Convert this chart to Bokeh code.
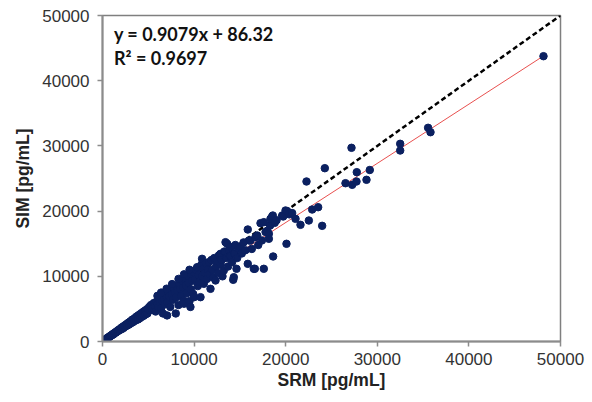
from bokeh.plotting import figure
from bokeh.models import Range1d, FixedTicker, Label, ColumnDataSource
from bokeh.embed import file_html
from bokeh.resources import INLINE

# ---- data ----
srm = [150,250,300,400,450,500,600,650,700,800,850,900,1000,1050,1100,1200,1250,1300,1400,1450,
       1500,1600,1650,1700,1800,1850,1900,2000,2050,2100,2200,2250,2300,2400,2450,2500,2600,2650,
       2700,2800,2850,2900,3000,3050,3100,3200,3250,3300,3400,3450,3500,3600,3650,3700,3800,3850,
       3900,4000,4050,4100,4200,4250,4300,4400,4450,4500,4600,4650,4700,4800,4850,4900,5000,
       5100,5200,5300,5400,5500,5600,5700,5800,5900,6000,6100,6200,6300,6400,6500,6550,6600,6700,
       6800,6900,7000,7050,7100,7200,7300,7400,7500,7600,7700,7800,7900,8000,8050,8100,8200,8300,
       8400,8500,8600,8700,8800,8850,8900,9000,9100,9200,9300,9400,9500,9600,9650,9700,9800,9900,
       10000,10000,6000,6400,7000,7600,8300,8900,9500,
       10100,10200,10330,10400,10500,10600,10700,10800,10870,10900,11000,11060,11200,11300,11400,
       11500,11600,11700,11790,11900,12000,12100,12200,12340,12400,12500,12600,12700,12880,12900,
       13000,13100,13240,13300,13430,13500,13610,13700,13800,13900,14000,14150,14270,14335,14400,
       14500,14630,14700,14800,15070,
       15200,15400,15600,15860,15860,16000,16160,16300,16520,16630,16700,16890,17000,17250,17400,
       17610,17610,17800,18000,18160,18160,18300,18340,18520,18592,18630,18800,19000,19620,19727,
       19980,20087,20160,20400,20706,21070,21615,22271,22525,22890,23544,23980,24270,26528,27183,
       27260,27730,27760,28820,29180,32500,32500,35546,35808,48144]
sim = [140,260,280,370,430,520,560,640,690,760,830,900,950,1010,1120,1100,1240,1280,1330,1460,
       1420,1580,1560,1720,1700,1860,1800,1950,2100,1900,2150,2300,2080,2350,2480,2300,2550,2700,
       2450,2750,2900,2600,2950,3100,2800,3150,3350,2950,3300,3500,3150,3550,3750,3300,3700,3950,
       3400,3900,4150,3600,4100,4350,3800,4300,4550,3950,4500,4750,4150,4650,4950,4300,4900,
       5300,4800,5600,5000,5200,5900,5400,4600,6100,5700,5300,6500,6000,5100,6800,6200,4300,6500,
       5700,7300,6700,4000,6000,7600,6900,5300,7900,7200,6400,8200,7500,4300,6800,8500,7800,5600,
       8900,8000,7000,9300,8300,6300,5800,9600,8600,7400,10100,9000,6200,5300,8000,10400,9300,7300,
       10600,6800,7000,7500,8100,8800,9600,10300,11000,
       9500,11000,11400,8500,10200,9200,6800,11800,12680,10000,11200,8850,10500,12000,9600,
       11000,12170,10300,8080,12500,11000,9800,12800,9360,11500,12300,10500,13200,13450,11800,
       12500,10000,10890,13800,15230,12800,14990,11500,14000,13100,14500,12170,9460,9863,13500,
       14800,11150,12800,14300,14470,
       13500,15200,14000,17180,11910,15500,15490,14200,11150,11150,16000,16260,14800,18150,15500,
       11150,18300,16800,17000,16520,15750,17800,18815,19170,19325,13040,18200,18600,19325,19172,
       20090,14985,20000,19500,19693,18815,17895,24540,18558,20245,20600,17740,26580,24280,29709,
       24030,24540,25970,24800,26304,30322,29294,32776,32101,43758]

slope = 0.9079
intercept = 86.32
r2 = 0.9697
x_ticks = [0, 10000, 20000, 30000, 40000, 50000]
y_ticks = [0, 10000, 20000, 30000, 40000, 50000]
fit_x = [0, max(srm)]
identity_x = [0, 50000]

p = figure(width=592, height=402, output_backend="svg", toolbar_location=None,
           x_range=Range1d(0, 50000), y_range=Range1d(0, 50000),
           min_border_left=102, min_border_right=32, min_border_top=15, min_border_bottom=61)
p.background_fill_color = "white"
p.border_fill_color = "white"
p.outline_line_color = "#7f7f7f"
p.outline_line_width = 1.5
p.xgrid.visible = False
p.ygrid.visible = False

for ax, ticks in ((p.xaxis[0], x_ticks), (p.yaxis[0], y_ticks)):
    ax.ticker = FixedTicker(ticks=ticks)
    ax.minor_tick_line_color = None
    ax.axis_line_color = "#8c8c8c"
    ax.axis_line_width = 2
    ax.major_tick_line_color = "#8c8c8c"
    ax.major_tick_line_width = 1.5
    ax.major_tick_in = 0
    ax.major_tick_out = 5
    ax.major_label_text_font = "Liberation Sans"
    ax.major_label_text_font_size = "17px"
    ax.major_label_text_color = "#333333"
    ax.axis_label_text_font = "Liberation Sans"
    ax.axis_label_text_font_size = "17.5px"
    ax.axis_label_text_font_style = "bold"
    ax.axis_label_text_color = "#222222"

p.xaxis.axis_label = "SRM [pg/mL]"
p.yaxis.axis_label = "SIM [pg/mL]"
p.xaxis.major_label_standoff = 6
p.yaxis.major_label_standoff = 8
p.xaxis.axis_label_standoff = 2
p.yaxis.axis_label_standoff = 6

# identity line and regression line
p.line(identity_x, identity_x, line_color="black", line_width=2.5, line_dash="5 3")
p.line(fit_x, [slope * v + intercept for v in fit_x], line_color="#e8504f", line_width=1)

src = ColumnDataSource(dict(x=srm, y=sim))
p.scatter("x", "y", source=src, size=7.5, fill_color="#0b2060", line_color="#0b2060")

eq = Label(x=1250, y=47100, text=f"y = {slope}x + {intercept}", text_font="Lato",
           text_font_style="bold", text_font_size="18px", text_baseline="middle", text_color="#111111")
r2l = Label(x=1250, y=43550, text=f"R\u00b2 = {r2}", text_font="Lato",
            text_font_style="bold", text_font_size="18px", text_baseline="middle", text_color="#111111")
p.add_layout(eq)
p.add_layout(r2l)

open("out.html", "w").write(file_html(p, INLINE))
